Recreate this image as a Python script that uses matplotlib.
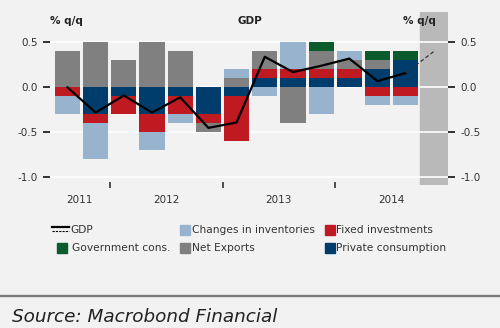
import matplotlib.pyplot as plt
from matplotlib.lines import Line2D
from matplotlib.patches import Rectangle
import numpy as np

# quarterly contributions to GDP growth, 2011 Q3 - 2014 Q3 (pp)
private_cons = [0.0, -0.3, -0.1, -0.3, -0.1, -0.3, -0.1, 0.1, 0.1, 0.1, 0.1, 0.2, 0.3]
fixed_inv = [-0.1, -0.1, -0.2, -0.2, -0.2, -0.1, -0.5, 0.1, 0.1, 0.1, 0.1, -0.1, -0.1]
net_exports = [0.4, 0.5, 0.3, 0.5, 0.4, -0.1, 0.1, 0.2, -0.4, 0.2, 0.1, 0.1, 0.0]
inventories = [-0.2, -0.4, 0.0, -0.2, -0.1, 0.0, 0.1, -0.1, 0.3, -0.3, 0.1, -0.1, -0.1]
gov_cons = [0.0, 0.0, 0.0, 0.0, 0.0, 0.0, 0.0, 0.0, 0.0, 0.1, 0.0, 0.1, 0.1]
gdp = [0.0, -0.28, -0.09, -0.28, -0.11, -0.45, -0.39, 0.34, 0.17, 0.24, 0.32, 0.07, 0.16]
gdp_forecast = 0.40

years = ["2011", "2012", "2013", "2014"]
year_label_pos = [0.44, 3.5, 7.5, 11.5]
year_breaks = [1.5, 5.5, 9.5]
yticks = [-1.0, -0.5, 0.0, 0.5]

bg = "#f2f2f2"
components = [
    ("Private consumption", private_cons, "#003d6d"),
    ("Fixed investments", fixed_inv, "#bf1a21"),
    ("Net Exports", net_exports, "#808080"),
    ("Changes in inventories", inventories, "#98b3ce"),
    ("Government cons.", gov_cons, "#0c5b2c"),
]

plt.rcParams['font.family'] = 'DejaVu Sans'
fig = plt.figure(figsize=(5, 3.28), dpi=100, facecolor=bg)
ax = fig.add_axes([0.1, 0.436, 0.796, 0.528], facecolor=bg)

n = len(gdp)
x = np.arange(n)
pos_base = np.zeros(n)
neg_base = np.zeros(n)
for name, vals, col in components:
    v = np.array(vals)
    pos = np.where(v > 0, v, 0)
    neg = np.where(v < 0, v, 0)
    ax.bar(x, pos, 0.89, bottom=pos_base, color=col, zorder=3)
    ax.bar(x, neg, 0.89, bottom=neg_base, color=col, zorder=3)
    pos_base += pos
    neg_base += neg

# forecast quarter, grid lines run over it
ax.axvspan(n - 0.5, n + 0.5, color="#b9b9b9", zorder=1)
for yt in yticks:
    ax.axhline(yt, color="white", lw=1.2, zorder=2)

ax.plot(x, gdp, color="black", lw=1.6, zorder=5)
ax.plot([x[-1], n], [gdp[-1], gdp_forecast], color="#333333", lw=0.9,
        ls=(0, (3, 2)), zorder=5)

ax.set_xlim(-0.62, n + 0.5)
ax.set_ylim(-1.085, 0.84)
ax.set_yticks(yticks)
ax.set_yticklabels(["-1.0", "-0.5", "0.0", "0.5"])
ax.tick_params(axis="y", which="major", length=5, width=1.3, color="#222222",
               labelsize=7.5, labelcolor="#333333", pad=4,
               left=True, right=True, labelleft=True, labelright=True)

ax.set_xticks(year_breaks)
ax.set_xticklabels([])
ax.set_xticks(year_label_pos, minor=True)
ax.set_xticklabels(years, minor=True)
ax.tick_params(axis="x", which="major", length=5, width=1.2, color="#333333",
               direction="inout")
ax.tick_params(axis="x", which="minor", length=0, pad=7, labelsize=7.5,
               labelcolor="#333333")
for s in ax.spines.values():
    s.set_visible(False)

fig.text(0.1, 0.936, "% q/q", fontsize=7.5, color="#222222", va="center",
         fontweight="semibold")
fig.text(0.806, 0.936, "% q/q", fontsize=7.5, color="#222222", va="center",
         fontweight="semibold")
fig.text(0.5, 0.936, "GDP", fontsize=7.5, color="#222222", va="center",
         ha="center", fontweight="semibold")

# legend, drawn by hand in figure coordinates
row1, row2 = 0.299, 0.244
fig.add_artist(Line2D([0.104, 0.138], [row1 + 0.008, row1 + 0.008],
                      color="black", lw=1.6, transform=fig.transFigure))
fig.add_artist(Line2D([0.104, 0.138], [row1 - 0.004, row1 - 0.004],
                      color="black", lw=0.8, ls=(0, (2, 1)),
                      transform=fig.transFigure))
fig.text(0.14, row1, "GDP", fontsize=7.7, color="#333333", va="center")
entries = [
    (0.36, row1, "Changes in inventories", "#98b3ce"),
    (0.65, row1, "Fixed investments", "#bf1a21"),
    (0.114, row2, "Government cons.", "#0c5b2c"),
    (0.36, row2, "Net Exports", "#808080"),
    (0.65, row2, "Private consumption", "#003d6d"),
]
for ex, ey, label, col in entries:
    fig.add_artist(Rectangle((ex, ey - 0.015), 0.019, 0.03, color=col,
                             transform=fig.transFigure))
    fig.text(ex + 0.023 if ex > 0.2 else ex + 0.03, ey, label, fontsize=7.7,
             color="#333333", va="center")

fig.add_artist(Line2D([0, 1], [0.0976, 0.0976], color="#7a7a7a", lw=1.7,
                      transform=fig.transFigure))
fig.text(0.024, 0.034, "Source: Macrobond Financial", fontsize=13.2,
         style="italic", color="#222222", va="center")

fig.savefig("out.png", dpi=100, facecolor=bg)
